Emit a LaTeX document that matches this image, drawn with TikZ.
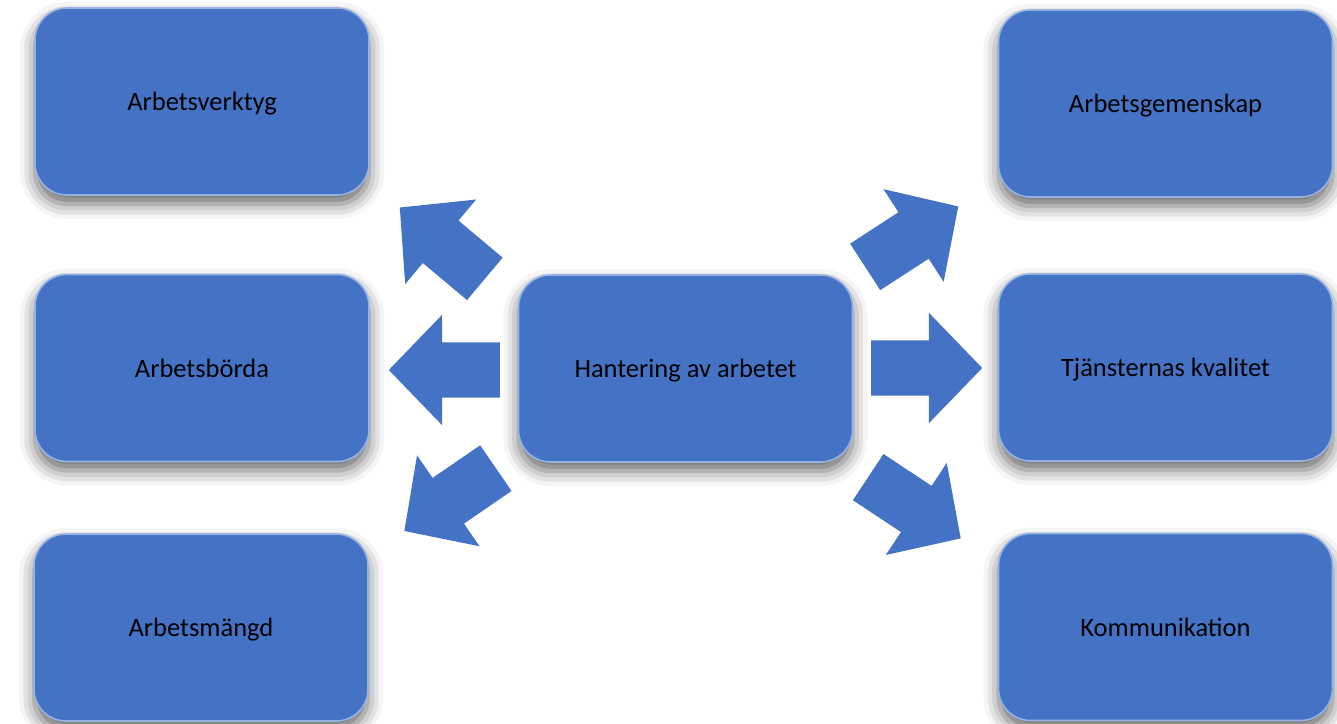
\documentclass[tikz,border=0pt]{standalone}
\usepackage{fontspec}
\setmainfont{Carlito}
\usetikzlibrary{shapes.arrows,shadows.blur}
\definecolor{boxblue}{RGB}{68,114,196}
\definecolor{rimblue}{RGB}{150,178,226}
\tikzstyle{topic}=[draw=rimblue,line width=1.6pt,fill=boxblue,rounded corners=32pt,
  minimum width=334pt,minimum height=187pt,text=black,text height=18pt,text depth=0pt,
  font=\fontsize{26.5}{32}\selectfont,
  blur shadow={shadow xshift=0pt,shadow yshift=-9pt,shadow blur radius=15pt,shadow opacity=60}]
\tikzstyle{bigarrow}=[single arrow,fill=boxblue,draw=none,
  minimum height=111pt,inner xsep=0pt,inner ysep=27.5pt,
  single arrow head extend=27.5pt,single arrow tip angle=92,anchor=tail]

\begin{document}
\begin{tikzpicture}[x=1pt,y=-1pt]
  \useasboundingbox (0,0) rectangle (1337,723);
  \foreach \place/\name/\txt in {{(202,101.5)/verktyg/Arbetsverktyg},
                                 {(202,368)/borda/Arbetsbörda},
                                 {(201,627.5)/mangd/Arbetsmängd},
                                 {(685.5,368.5)/hantering/Hantering av arbetet},
                                 {(1165.5,103.5)/gemenskap/Arbetsgemenskap},
                                 {(1165.5,367.5)/kvalitet/Tjänsternas kvalitet},
                                 {(1165.5,627)/kommunikation/Kommunikation}}
    \node[topic] (\name) at \place {\txt};
  \foreach \place/\ang/\name in {{(485,279)/140/upleft},
                                 {(500,370)/180/left},
                                 {(496,468)/214.5/downleft},
                                 {(865,267)/33/upright},
                                 {(871,368)/0/right},
                                 {(868,477)/-33.5/downright}}
    \node[bigarrow,rotate=\ang] (\name) at \place {};
\end{tikzpicture}
\end{document}
